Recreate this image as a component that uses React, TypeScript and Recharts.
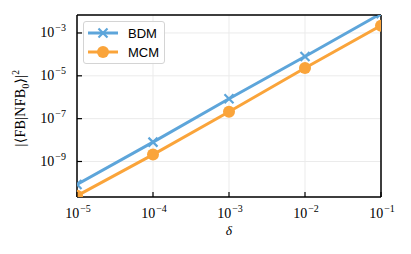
import { LineChart, Line, XAxis, YAxis, CartesianGrid } from 'recharts';

const deltas = [1e-5, 1e-4, 1e-3, 1e-2, 1e-1];
const bdmValues = [8.5e-11, 8e-9, 8.5e-7, 8e-5, 8e-3];
const mcmValues = [2.5e-11, 2.1e-9, 2.1e-7, 2.3e-5, 2.2e-3];
const xTicks = [1e-5, 1e-4, 1e-3, 1e-2, 1e-1];
const yTicks = [1e-9, 1e-7, 1e-5, 1e-3];

const BLUE = '#5DA5DA';
const ORANGE = '#FAA43A';
const SERIF = '"Liberation Serif", "DejaVu Serif", serif';
const SANS = '"Liberation Sans", Arial, sans-serif';

const data = deltas.map((d, i) => ({ delta: d, bdm: bdmValues[i], mcm: mcmValues[i] }));

const expOf = (v: number) => Math.round(Math.log10(v));

const Pow = ({ exp }: { exp: number }) => (
  <>
    <tspan fontSize={14}>10</tspan>
    <tspan dx={1} dy={-6} fontSize={10}>{'\u2212' + Math.abs(exp)}</tspan>
  </>
);

// ticks point inwards, so they are drawn here together with the label
const XTick = ({ x, y, payload }: any) => (
  <g>
    <line x1={x} x2={x} y1={y} y2={y - 5} stroke="#000" strokeWidth={1.2} />
    <text x={x + 1} y={y + 21} textAnchor="middle" fontFamily={SERIF} fontSize={14} fill="#000">
      <Pow exp={expOf(payload.value)} />
    </text>
  </g>
);

const YTick = ({ x, y, payload }: any) => (
  <g>
    <line x1={x} x2={x + 5} y1={y} y2={y} stroke="#000" strokeWidth={1.2} />
    <text x={x - 11} y={y + 4.5} textAnchor="end" fontFamily={SERIF} fontSize={14} fill="#000">
      <Pow exp={expOf(payload.value)} />
    </text>
  </g>
);

const CrossDot = ({ cx, cy }: any) => {
  if (cx == null || cy == null) return null;
  const s = 4.5;
  return (
    <g stroke={BLUE} strokeWidth={2.2}>
      <line x1={cx - s} y1={cy - s} x2={cx + s} y2={cy + s} />
      <line x1={cx - s} y1={cy + s} x2={cx + s} y2={cy - s} />
    </g>
  );
};

const legendItems = [
  { label: 'BDM', color: BLUE, cross: true, top: 11 },
  { label: 'MCM', color: ORANGE, cross: false, top: 30 },
];

const LegendBox = () => (
  <div
    style={{
      position: 'absolute',
      left: 83,
      top: 21,
      width: 80,
      height: 41,
      border: '1px solid #d4d4d4',
      borderRadius: 3,
      background: 'rgba(255,255,255,0.85)',
      fontFamily: SANS,
      fontSize: 13,
    }}
  >
    {legendItems.map((e) => (
      <div key={e.label} style={{ position: 'absolute', left: 3, top: e.top - 8, height: 16, display: 'flex', alignItems: 'center' }}>
        <svg width={32} height={16}>
          <line x1={1} x2={31} y1={8} y2={8} stroke={e.color} strokeWidth={3} />
          {e.cross ? (
            <g stroke={e.color} strokeWidth={2.2}>
              <line x1={11.5} y1={3.5} x2={20.5} y2={12.5} />
              <line x1={11.5} y1={12.5} x2={20.5} y2={3.5} />
            </g>
          ) : (
            <circle cx={16} cy={8} r={6} fill={e.color} />
          )}
        </svg>
        <span style={{ marginLeft: 9, color: '#000' }}>{e.label}</span>
      </div>
    ))}
  </div>
);

const frame = { stroke: '#000', strokeWidth: 1.5 };

export default function App() {
  return (
    <div style={{ position: 'absolute', left: 0, top: 0, width: 411, height: 254, background: '#fff' }}>
      <LineChart width={411} height={254} data={data} margin={{ top: 14, right: 29, bottom: 56, left: 76 }}>
        <CartesianGrid stroke="#ebebeb" strokeWidth={1} />
        <XAxis
          dataKey="delta"
          type="number"
          scale="log"
          domain={[1e-5, 1e-1]}
          ticks={xTicks}
          allowDataOverflow
          height={1}
          tickSize={0}
          tickMargin={0}
          tickLine={false}
          axisLine={frame}
          tick={<XTick />}
          interval={0}
        />
        <XAxis
          xAxisId="top"
          orientation="top"
          dataKey="delta"
          type="number"
          scale="log"
          domain={[1e-5, 1e-1]}
          height={1}
          tick={false}
          tickLine={false}
          axisLine={frame}
        />
        <YAxis
          type="number"
          scale="log"
          domain={[2.2e-11, 6.9e-3]}
          ticks={yTicks}
          allowDataOverflow
          width={1}
          tickSize={0}
          tickMargin={0}
          tickLine={false}
          axisLine={frame}
          tick={<YTick />}
          interval={0}
        />
        <YAxis yAxisId="right" orientation="right" type="number" width={1} tick={false} tickLine={false} axisLine={frame} />
        <Line dataKey="mcm" stroke={ORANGE} strokeWidth={3} dot={{ r: 6, fill: ORANGE, stroke: 'none' }} isAnimationActive={false} />
        <Line dataKey="bdm" stroke={BLUE} strokeWidth={3} dot={<CrossDot />} isAnimationActive={false} />
      </LineChart>
      <LegendBox />
      <div
        style={{
          position: 'absolute',
          left: 21,
          top: 108,
          transform: 'translate(-50%, -50%) rotate(-90deg)',
          fontFamily: SERIF,
          fontSize: 14,
          letterSpacing: 0.3,
          whiteSpace: 'nowrap',
          lineHeight: '16px',
        }}
      >
        |⟨FB|NFB<sub style={{ fontSize: 9.5, lineHeight: 0 }}>0</sub>⟩|<sup style={{ fontSize: 9.5, lineHeight: 0 }}>2</sup>
      </div>
      <div
        style={{
          position: 'absolute',
          left: 229,
          top: 231,
          transform: 'translate(-50%, -50%)',
          fontFamily: SERIF,
          fontStyle: 'italic',
          fontSize: 13.5,
        }}
      >
        δ
      </div>
    </div>
  );
}
